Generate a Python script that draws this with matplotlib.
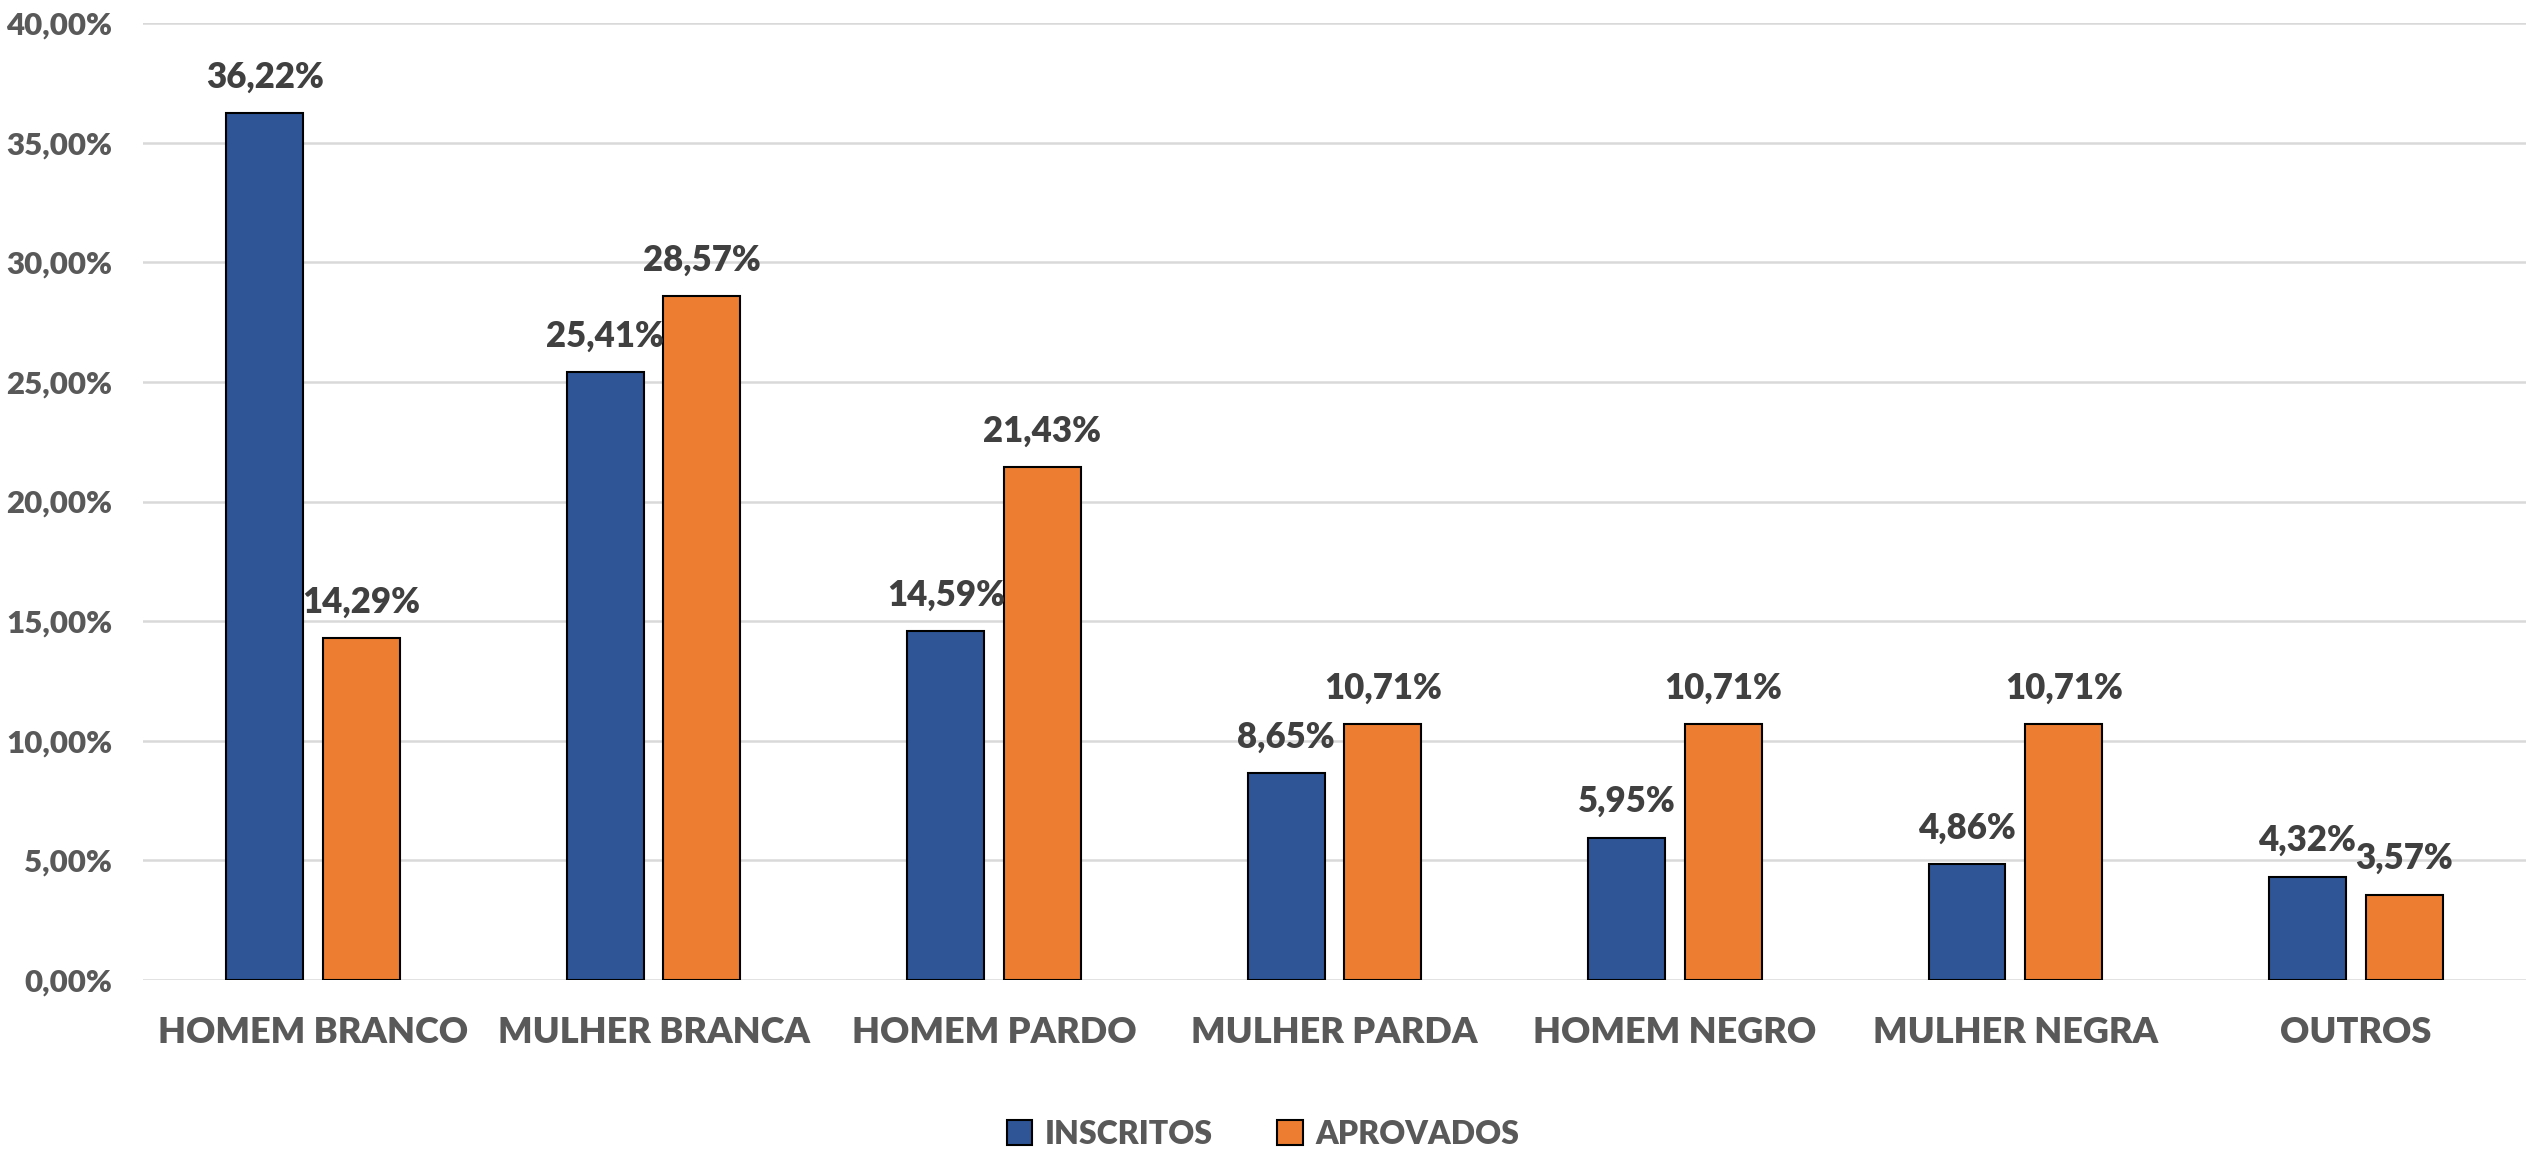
import matplotlib.pyplot as plt
import numpy as np
from matplotlib.ticker import FuncFormatter

categories = ["HOMEM BRANCO", "MULHER BRANCA", "HOMEM PARDO", "MULHER PARDA",
              "HOMEM NEGRO", "MULHER NEGRA", "OUTROS"]
inscritos = [36.22, 25.41, 14.59, 8.65, 5.95, 4.86, 4.32]
aprovados = [14.29, 28.57, 21.43, 10.71, 10.71, 10.71, 3.57]

BLUE = "#2F5597"
ORANGE = "#ED7D31"
GREY = "#595959"
DARK = "#404040"

plt.rcParams["font.family"] = ["Lato", "DejaVu Sans"]
plt.rcParams["font.weight"] = "heavy"

fig = plt.figure(figsize=(25.26, 11.55), dpi=100)
ax = fig.add_axes([0.0566, 0.1515, 0.9434, 0.8286])

x = np.arange(len(categories))
w = 0.226
off = 0.142

b1 = ax.bar(x - off, inscritos, w, color=BLUE, edgecolor="black", linewidth=1.5,
            label="INSCRITOS", zorder=3)
b2 = ax.bar(x + off, aprovados, w, color=ORANGE, edgecolor="black", linewidth=1.5,
            label="APROVADOS", zorder=3)

fmt = lambda v: f"{v:.2f}%".replace(".", ",")
for bars in (b1, b2):
    ax.bar_label(bars, labels=[fmt(b.get_height()) for b in bars], padding=14,
                 fontsize=25, fontweight="heavy", color=DARK)

ax.set_xlim(-0.5, len(categories) - 0.5)
ax.set_ylim(0, 40)
ax.set_yticks(np.arange(0, 40.1, 5))
ax.yaxis.set_major_formatter(FuncFormatter(lambda v, _: f"{v:.2f}%".replace(".", ",")))
ax.set_xticks(x)
ax.set_xticklabels(categories)

ax.tick_params(axis="y", length=0, pad=22, labelsize=22.5, labelcolor=GREY)
ax.tick_params(axis="x", length=0, pad=26, labelsize=26, labelcolor=GREY)
ax.grid(axis="y", color="#D9D9D9", linewidth=1.8, zorder=0)
for s in ax.spines.values():
    s.set_visible(False)

fig.legend(handles=[b1, b2], loc="lower center", bbox_to_anchor=(0.5, 0.0), ncol=2,
           frameon=False, fontsize=23, labelcolor=GREY, handlelength=0.8,
           handleheight=0.8, handletextpad=0.4, columnspacing=2.0, borderpad=0.1,
           borderaxespad=0.1)

fig.savefig("out.png", dpi=100)
